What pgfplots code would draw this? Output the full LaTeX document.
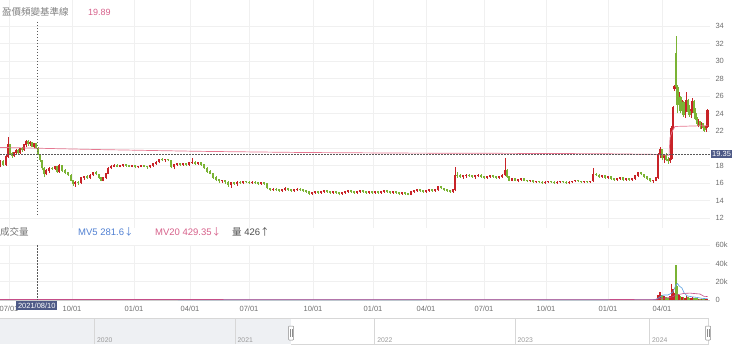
\documentclass[border=0pt]{standalone}
\usepackage{pgfplots}
\usepackage{pgfplotstable}
\pgfplotsset{compat=1.18}
\usepackage{fontspec}
\setmainfont{Liberation Sans}
\newfontfamily\cjk{Noto Sans CJK TC}
\definecolor{cred}{RGB}{200,35,40}
\definecolor{cgreen}{RGB}{122,179,52}
\definecolor{pinkline}{RGB}{230,120,145}
\definecolor{labgray}{RGB}{110,110,110}
\definecolor{gridgray}{RGB}{240,240,240}
\definecolor{boxblue}{RGB}{78,90,135}
\definecolor{mvblue}{RGB}{80,128,210}
\definecolor{mvpink}{RGB}{214,96,138}
\definecolor{mvline}{RGB}{90,160,225}
\definecolor{navfill}{RGB}{238,240,243}
\definecolor{navline}{RGB}{215,215,215}

\pgfplotstableread{
x o h l c
0 18.2 18.6 17.8 18.5
3 18.5 18.7 18.0 18.1
6 18.1 19.3 18.0 19.0
8 19.0 21.3 18.9 20.4
10 20.4 20.5 19.2 19.4
12 19.4 19.6 18.9 19.1
14 19.1 19.6 19.0 19.5
16 19.5 19.9 19.3 19.7
18 19.7 19.9 19.4 19.5
20 19.5 20.0 19.4 19.9
22 19.9 20.2 19.6 19.8
24 19.8 20.5 19.7 20.4
26 20.4 20.9 20.2 20.7
28 20.7 20.9 20.3 20.5
30 20.5 20.8 20.3 20.6
32 20.6 20.7 20.1 20.2
34 20.2 20.6 20.0 20.5
36 20.5 20.6 19.9 20.0
38 20.0 20.1 19.2 19.3
40 19.3 19.4 18.4 18.6
42 18.6 18.7 17.5 17.7
44 17.7 17.8 16.7 17.0
46 17.0 17.6 16.9 17.4
49 17.4 17.8 17.2 17.7
52 17.7 17.9 17.5 17.6
55 17.6 18.0 17.5 17.9
57 17.9 18.0 17.2 17.3
59 17.3 18.2 17.2 18.0
62 18.0 18.0 17.3 17.4
65 17.4 17.6 17.0 17.2
68 17.2 17.3 16.8 16.9
71 16.9 17.0 16.2 16.3
73 16.3 16.4 15.7 15.9
75 15.9 16.2 15.6 16.1
78 16.1 16.3 15.8 16.0
81 16.0 16.7 15.9 16.6
84 16.6 16.8 16.4 16.7
87 16.7 16.9 16.5 16.6
90 16.6 17.0 16.5 16.9
93 16.9 17.3 16.8 17.2
96 17.2 17.4 16.9 17.0
99 17.0 17.1 16.5 16.6
101 16.6 16.7 16.2 16.3
103 16.3 16.7 16.2 16.6
106 16.6 17.2 16.5 17.1
108 17.1 17.8 17.0 17.7
111 17.7 18.1 17.6 17.9
114 17.9 18.2 17.8 18.0
117 18.0 18.2 17.8 17.9
120 17.9 18.1 17.8 18.0
123 18.0 18.2 17.9 18.1
126 18.1 18.2 17.9 18.0
129 18.0 18.1 17.8 17.9
132 17.9 18.1 17.8 18.0
135 18.0 18.1 17.7 17.8
138 17.8 18.0 17.7 17.9
141 17.9 18.1 17.8 18.0
144 18.0 18.1 17.8 17.9
147 17.9 18.0 17.6 17.8
150 17.8 18.1 17.7 18.0
153 18.0 18.3 17.9 18.2
156 18.2 18.5 18.1 18.4
159 18.4 18.8 18.3 18.7
162 18.7 18.9 18.5 18.6
165 18.6 18.8 18.4 18.7
168 18.7 18.8 18.5 18.6
171 18.6 18.7 17.7 17.9
174 17.9 18.2 17.6 18.1
177 18.1 18.3 18.0 18.2
180 18.2 18.3 18.0 18.1
183 18.1 18.3 18.0 18.2
186 18.2 18.3 18.0 18.1
189 18.1 18.4 18.0 18.3
192 18.3 18.9 18.2 18.4
195 18.4 18.5 18.1 18.2
198 18.2 18.4 18.1 18.3
201 18.3 18.4 18.0 18.1
204 18.1 18.2 17.6 17.7
207 17.7 17.8 17.2 17.3
210 17.3 17.5 17.0 17.1
213 17.1 17.2 16.5 16.6
216 16.6 16.8 16.3 16.4
219 16.4 16.5 16.0 16.2
222 16.2 16.4 16.0 16.3
225 16.3 16.4 15.9 16.1
228 16.1 16.2 15.6 15.8
231 15.8 16.1 15.5 16.0
234 16.0 16.1 15.8 15.9
237 15.9 16.2 15.7 16.1
240 16.1 16.2 15.9 16.0
243 16.0 16.3 15.9 16.2
246 16.2 16.3 16.0 16.1
249 16.1 16.2 15.9 16.0
252 16.0 16.2 15.9 16.1
255 16.1 16.2 15.9 16.0
258 16.0 16.1 15.8 15.9
261 15.9 16.1 15.8 16.0
264 16.0 16.1 15.8 15.9
267 15.9 16.0 15.3 15.4
270 15.4 15.5 15.1 15.2
273 15.2 15.4 15.1 15.3
276 15.3 15.4 15.1 15.2
279 15.2 15.3 15.0 15.1
282 15.1 15.3 15.0 15.2
285 15.2 15.6 15.1 15.4
288 15.4 15.5 15.1 15.2
291 15.2 15.3 15.0 15.1
294 15.1 15.3 15.0 15.2
297 15.2 15.4 15.1 15.3
300 15.3 15.4 15.1 15.2
303 15.2 15.3 15.0 15.1
306 15.1 15.2 14.9 15.0
309 15.0 15.1 14.7 14.8
312 14.8 15.0 14.7 14.9
315 14.9 15.1 14.8 15.0
318 15.0 15.1 14.8 14.9
321 14.9 15.1 14.8 15.0
324 15.0 15.2 14.9 15.1
327 15.1 15.2 14.9 15.0
330 15.0 15.1 14.8 14.9
333 14.9 15.1 14.8 15.0
336 15.0 15.1 14.8 14.9
339 14.9 15.0 14.6 14.8
342 14.8 15.0 14.7 14.9
345 14.9 15.1 14.8 15.0
348 15.0 15.2 14.9 15.1
351 15.1 15.2 14.9 15.0
354 15.0 15.1 14.8 14.9
357 14.9 15.1 14.8 15.0
360 15.0 15.2 14.9 15.1
363 15.1 15.2 14.9 15.0
366 15.0 15.1 14.8 14.9
369 14.9 15.0 14.8 15.0
372 15.0 15.1 14.8 14.9
375 14.9 15.1 14.8 15.0
378 15.0 15.1 14.8 14.9
381 14.9 15.1 14.8 15.0
384 15.0 15.2 14.9 15.1
387 15.1 15.2 14.9 15.0
390 15.0 15.1 14.8 14.9
393 14.9 15.0 14.8 15.0
396 15.0 15.1 14.8 14.9
399 14.9 15.0 14.7 14.8
402 14.8 15.0 14.7 14.9
405 14.9 15.0 14.7 14.8
408 14.8 14.9 14.6 14.7
411 14.7 15.1 14.6 15.0
414 15.0 15.2 14.9 15.1
417 15.1 15.2 15.0 15.2
420 15.2 15.3 15.0 15.1
423 15.1 15.2 14.9 15.0
426 15.0 15.2 14.9 15.1
429 15.1 15.2 15.0 15.2
432 15.2 15.3 15.0 15.1
435 15.1 15.3 15.0 15.2
438 15.2 15.7 15.1 15.6
441 15.6 15.7 15.3 15.4
444 15.4 15.5 15.1 15.2
447 15.2 15.3 15.0 15.1
450 15.1 15.2 14.9 15.0
453 15.0 15.3 14.9 15.2
455 15.2 17.9 15.1 16.9
457 16.9 17.3 16.6 16.8
460 16.8 17.0 16.6 16.7
463 16.7 16.9 16.5 16.8
466 16.8 17.0 16.6 16.9
469 16.9 17.1 16.7 16.8
472 16.8 16.9 16.6 16.7
475 16.7 16.9 16.5 16.8
478 16.8 17.0 16.7 16.9
481 16.9 17.0 16.6 16.7
484 16.7 16.8 16.5 16.6
487 16.6 16.8 16.5 16.7
490 16.7 16.9 16.6 16.8
493 16.8 16.9 16.6 16.7
496 16.7 16.8 16.5 16.6
499 16.6 16.8 16.5 16.7
502 16.7 17.0 16.6 16.9
505 16.9 18.9 16.8 17.4
507 17.4 17.6 16.6 16.7
509 16.7 16.8 16.2 16.3
512 16.3 16.6 16.2 16.5
515 16.5 16.6 16.2 16.3
518 16.3 16.5 16.1 16.4
521 16.4 16.6 16.3 16.5
524 16.5 16.6 16.2 16.3
527 16.3 16.4 16.1 16.2
530 16.2 16.4 16.1 16.3
533 16.3 16.4 16.0 16.1
536 16.1 16.3 16.0 16.2
539 16.2 16.3 16.0 16.1
542 16.1 16.2 15.9 16.0
545 16.0 16.2 15.9 16.1
548 16.1 16.3 16.0 16.2
551 16.2 16.3 16.0 16.1
554 16.1 16.2 15.9 16.0
557 16.0 16.2 15.9 16.1
560 16.1 16.3 16.0 16.2
563 16.2 16.3 16.0 16.1
566 16.1 16.2 15.9 16.0
569 16.0 16.2 15.9 16.1
572 16.1 16.3 16.0 16.2
575 16.2 16.4 16.1 16.3
578 16.3 16.4 16.1 16.2
581 16.2 16.3 16.0 16.1
584 16.1 16.3 16.0 16.2
587 16.2 16.3 16.0 16.1
590 16.1 16.3 16.0 16.2
593 16.2 17.7 16.1 17.0
596 17.0 17.2 16.8 16.9
599 16.9 17.0 16.6 16.7
602 16.7 16.9 16.6 16.8
605 16.8 16.9 16.5 16.6
608 16.6 16.8 16.5 16.7
611 16.7 16.8 16.4 16.5
614 16.5 16.6 16.3 16.4
617 16.4 16.6 16.3 16.5
620 16.5 16.7 16.4 16.6
623 16.6 16.7 16.3 16.4
626 16.4 16.6 16.3 16.5
629 16.5 16.6 16.3 16.4
632 16.4 16.6 16.3 16.5
635 16.5 16.9 16.4 16.8
638 16.8 17.3 16.7 17.2
641 17.2 17.3 16.9 17.0
644 17.0 17.1 16.6 16.7
647 16.7 16.8 16.4 16.5
650 16.5 16.6 16.1 16.2
653 16.2 16.4 16.0 16.3
656 16.3 16.7 16.2 16.6
658 16.6 19.5 16.5 19.2
660 19.2 20.2 18.9 19.8
662 19.8 19.9 18.6 18.9
664 18.9 19.4 18.3 19.2
666 19.2 19.5 18.5 18.7
668 18.7 19.0 18.2 18.5
670 18.5 19.0 18.3 18.8
671.5 18.8 22.5 18.7 22.3
673 22.3 24.8 22.2 24.6
674.5 26.8 27.3 26.6 27.1
676 30.8 32.9 26.8 27.0
677.5 27.0 27.2 24.0 25.0
679 25.0 26.5 24.3 25.8
680.5 25.8 26.0 24.0 24.3
682 24.3 25.5 23.8 25.2
683.5 25.2 25.4 23.6 23.8
685 23.8 25.0 23.5 24.8
686.5 24.8 26.4 24.2 25.4
688 25.4 25.6 23.9 24.2
689.5 24.2 25.0 23.6 23.8
691 23.8 24.6 23.5 24.4
692.5 24.4 25.8 24.0 25.3
694 25.3 25.5 23.8 24.0
695.5 24.0 24.6 23.2 23.4
697 23.4 23.6 22.6 22.8
698.5 22.8 23.3 22.4 23.0
700 23.0 23.1 22.2 22.5
701.5 22.5 23.0 22.2 22.8
703 22.8 22.9 22.0 22.3
704.5 22.3 22.6 21.9 22.1
706 22.1 22.7 21.9 22.5
707.5 22.4 24.5 22.3 24.3
}\candles

\pgfplotstableread{
x v up
656 1500 1
658 6000 1
660 9000 1
662 5000 0
664 4000 1
666 3000 0
668 2000 0
670 4000 1
671.5 17000 1
673 12000 1
674.5 8000 1
676 38000 0
677.5 15000 0
679 6000 1
680.5 4000 0
682 3500 1
683.5 3000 0
685 2500 1
686.5 4500 1
688 3000 0
689.5 2000 0
691 1800 1
692.5 3000 1
694 2500 0
695.5 2000 0
697 2200 0
698.5 1500 1
700 1200 0
701.5 1000 1
703 1100 0
704.5 900 0
706 800 1
707.5 800 1
}\vols

\begin{document}
\begin{tikzpicture}
\path[use as bounding box] (0pt,0pt) rectangle (740pt,-348pt);

% ---------- price panel ----------
\begin{axis}[
  at={(0pt,-228pt)}, anchor=south west,
  scale only axis, width=710pt, height=228pt,
  xmin=0, xmax=710, ymin=10.86, ymax=37,
  axis line style={draw=none}, major tick length=0pt,
  xtick={9,72,134,190,249,313,373,426,484,546,608,662},
  xticklabels={},
  ytick={12,14,16,18,22,24,26,28,30,32,34},
  extra y ticks={20}, extra y tick labels={},
  yticklabel pos=right,
  yticklabel style={font=\fontsize{7.5}{8}\selectfont, text=labgray, anchor=west, xshift=2pt},
  /pgf/number format/assume math mode=true,
  grid=major, grid style={gridgray, line width=0.5pt},
  extra tick style={grid=major, grid style={gridgray, line width=0.5pt}, major tick length=0pt},
  clip=false,
]
% rising candles (red)
\addplot[draw=none, mark=none, forget plot,
  restrict expr to domain={\thisrow{c}-\thisrow{o}}{0:100},
  error bars/.cd, y dir=plus, y explicit, error mark=none,
  error bar style={draw=cred, line width=0.6pt}]
  table[x=x, y=l, y error plus expr=\thisrow{h}-\thisrow{l}] {\candles};
\addplot[draw=none, mark=none, forget plot,
  restrict expr to domain={\thisrow{c}-\thisrow{o}}{0:100},
  error bars/.cd, y dir=plus, y explicit, error mark=none,
  error bar style={draw=cred, line width=2.2pt}]
  table[x=x, y=o, y error plus expr=\thisrow{c}-\thisrow{o}+0.08] {\candles};
% falling candles (green)
\addplot[draw=none, mark=none, forget plot,
  restrict expr to domain={\thisrow{c}-\thisrow{o}}{-100:-0.001},
  error bars/.cd, y dir=plus, y explicit, error mark=none,
  error bar style={draw=cgreen, line width=0.6pt}]
  table[x=x, y=l, y error plus expr=\thisrow{h}-\thisrow{l}] {\candles};
\addplot[draw=none, mark=none, forget plot,
  restrict expr to domain={\thisrow{c}-\thisrow{o}}{-100:-0.001},
  error bars/.cd, y dir=plus, y explicit, error mark=none,
  error bar style={draw=cgreen, line width=2.2pt}]
  table[x=x, y=c, y error plus expr=\thisrow{o}-\thisrow{c}+0.08] {\candles};
% base line
\addplot[pinkline, line width=0.7pt, mark=none] coordinates {
 (0,20.1) (40,20.0) (100,19.85) (200,19.65) (300,19.52) (400,19.45)
 (500,19.42) (600,19.38) (655,19.3) (669,19.2) (670,21.2) (672,21.9)
 (675,22.5) (707.5,22.6)};
% crosshair
\draw[black!65, dash pattern=on 1.5pt off 1.5pt, line width=0.6pt] (axis cs:0,19.35) -- (axis cs:710,19.35);
\draw[black!65, dash pattern=on 1.5pt off 1.5pt, line width=0.7pt] (axis cs:37,34.5) -- (axis cs:37,12.35);
\node[fill=boxblue, text=white, anchor=west, inner sep=1.5pt, font=\fontsize{7.5}{8}\selectfont] at (axis cs:710.5,19.35) {19.35};
\end{axis}

% ---------- volume panel ----------
\begin{axis}[
  at={(0pt,-300pt)}, anchor=south west,
  scale only axis, width=710pt, height=55pt,
  xmin=0, xmax=710, ymin=0, ymax=60000,
  axis line style={draw=none}, major tick length=0pt,
  xtick={9,72,134,190,249,313,373,426,484,546,608,662},
  xticklabels={07/01,10/01,01/01,04/01,07/01,10/01,01/01,04/01,07/01,10/01,01/01,04/01},
  xticklabel style={font=\fontsize{7.5}{8}\selectfont, text=labgray, yshift=-3pt},
  ytick={0,20000,40000,60000},
  yticklabels={0,20k,40k,60k},
  scaled y ticks=false,
  yticklabel pos=right,
  yticklabel style={font=\fontsize{7.5}{8}\selectfont, text=labgray, anchor=west, xshift=2pt},
  grid=major, grid style={gridgray, line width=0.5pt},
  clip=false,
]
\draw[black!20, line width=0.6pt] (axis cs:0,0) -- (axis cs:710,0);
\addplot[ycomb, cred, line width=1.1pt, mark=none,
  restrict expr to domain={\thisrow{up}}{0.5:1.5}] table[x=x, y=v] {\vols};
\addplot[ycomb, cgreen, line width=1.1pt, mark=none,
  restrict expr to domain={\thisrow{up}}{-0.5:0.5}] table[x=x, y=v] {\vols};
\addplot[mvline, line width=0.6pt, mark=none] coordinates {
 (0,400) (100,350) (300,300) (500,350) (600,300) (655,500) (658,1800)
 (660,3500) (664,5500) (668,5500) (671.5,7500) (673,9000) (676,16500)
 (677.5,18000) (679,15500) (682,13000) (684,8000) (687,4500) (692,3500)
 (697,2800) (702,1800) (707.5,1400)};
\addplot[mvpink!80!violet, line width=0.6pt, mark=none] coordinates {
 (0,600) (200,500) (400,450) (600,450) (656,700) (660,1500) (665,2200)
 (670,2800) (673,3700) (676,5500) (680,6300) (684,7200) (690,7500)
 (695,7000) (700,6500) (704,4000) (707.5,3800)};
\draw[black!65, dash pattern=on 1.5pt off 1.5pt, line width=0.7pt] (axis cs:37,60000) -- (axis cs:37,0);
\end{axis}

% ---------- legends ----------
\node[anchor=west, inner sep=0pt, text=black!50, font=\fontsize{9.5}{10}\selectfont\cjk] at (2pt,-12pt) {盈價頻變基準線};
\node[anchor=west, inner sep=0pt, text=mvpink, font=\fontsize{9}{10}\selectfont] at (88pt,-12pt) {19.89};
\node[anchor=west, inner sep=0pt, text=black!55, font=\fontsize{9.5}{10}\selectfont\cjk] at (0pt,-232pt) {成交量};
\node[anchor=west, inner sep=0pt, text=mvblue, font=\fontsize{9.5}{10}\selectfont] at (78pt,-232pt) {MV5 281.6{\cjk ↓}};
\node[anchor=west, inner sep=0pt, text=mvpink, font=\fontsize{9.5}{10}\selectfont] at (155pt,-232pt) {MV20 429.35{\cjk ↓}};
\node[anchor=west, inner sep=0pt, text=black!70, font=\fontsize{9.5}{10}\selectfont] at (232pt,-232pt) {{\cjk 量} 426{\cjk ↑}};

% date box
\node[fill=boxblue, text=white, anchor=north west, inner sep=1.8pt, font=\fontsize{7.5}{8}\selectfont] at (16pt,-301pt) {2021/08/10};

% ---------- navigator ----------
\fill[navfill] (0pt,-318pt) rectangle (291pt,-344pt);
\draw[navline, line width=0.6pt] (0pt,-318pt) -- (708pt,-318pt);
\draw[navline, line width=0.6pt] (291pt,-344pt) -- (708pt,-344pt) -- (708pt,-318pt);
\foreach \xx/\yy in {94.5/2020,235/2021,374.6/2022,515/2023,649.5/2024}{
  \draw[navline, line width=0.5pt] (\xx pt,-318pt) -- (\xx pt,-344pt);
  \node[anchor=south west, inner sep=0pt, text=black!40, font=\fontsize{6.8}{7}\selectfont] at (\xx pt+2.5pt,-343pt) {\yy};
}
\foreach \hx in {291,708}{
  \draw[black!45, fill=white, rounded corners=0.8pt, line width=0.5pt] (\hx pt-2.5pt,-326pt) rectangle (\hx pt+2.5pt,-340pt);
  \draw[black!45, line width=0.4pt] (\hx pt-0.7pt,-329pt) -- (\hx pt-0.7pt,-337pt);
  \draw[black!45, line width=0.4pt] (\hx pt+0.7pt,-329pt) -- (\hx pt+0.7pt,-337pt);
}
\end{tikzpicture}
\end{document}
